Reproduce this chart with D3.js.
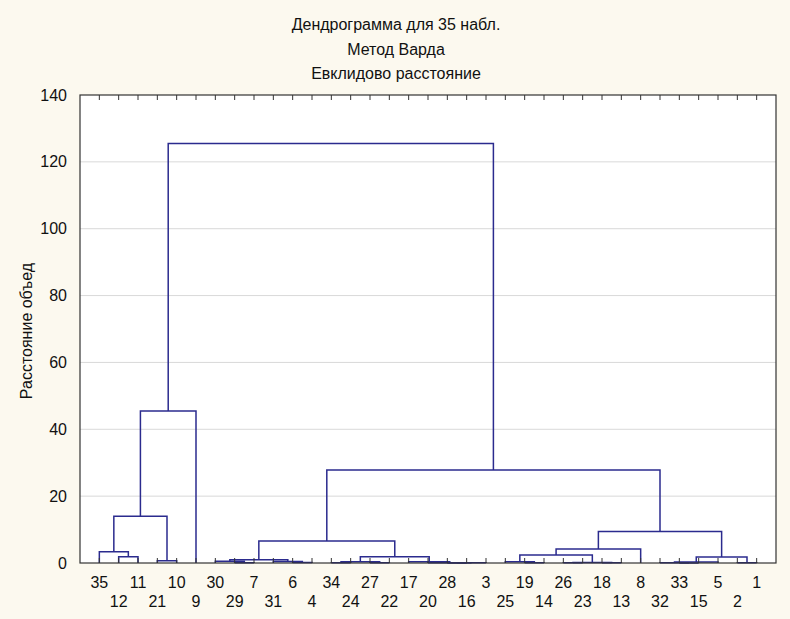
<!DOCTYPE html>
<html>
<head>
<meta charset="utf-8">
<script src="https://cdn.jsdelivr.net/npm/d3@7"></script>
<style>
  html, body { margin: 0; padding: 0; background: #fcf9ef; }
  svg { display: block; }
  text { font-family: "Liberation Sans", Arial, sans-serif; fill: #111; }
</style>
</head>
<body>
<svg id="chart" width="790" height="619"></svg>
<script>
// Leaf order along the axis (case numbers)
const leafLabels = ["35","12","11","21","10","9","30","29","7","31","6","4","34","24","27","22",
  "17","20","28","16","3","25","19","14","26","23","18","13","8","32","33","15","5","2","1"];

// Agglomeration steps: children are case numbers or "#k" for the k-th step
const mergeLeft   = ["12","35","21","#1","#3","29","30","6","31","#6","34","27","#10","28","#13","20","17","#12","#9",
                     "19","25","26","18","#21","#20","#24","33","32","#27","2","#28","#25","#18","#4"];
const mergeRight  = ["11","#0","10","#2","9","7","#5","4","#7","#8","24","22","#11","16","3","#14","#15","#16","#17",
                     "14","#19","23","13","#22","#23","8","15","#26","5","1","#29","#30","#31","#32"];
const mergeHeight = [1.9, 3.4, 0.7, 14.0, 45.5, 0.1, 0.5, 0.15, 0.45, 0.95, 0.05, 0.05, 0.35, 0.02, 0.05, 0.1, 0.35, 1.9, 6.6,
                     0.05, 0.35, 0.05, 0.05, 0.15, 2.4, 4.2, 0.02, 0.05, 0.3, 0.1, 1.8, 9.4, 27.8, 125.5];

const yTicks = [0, 20, 40, 60, 80, 100, 120, 140];
const titleLines = ["Дендрограмма для 35 набл.", "Метод Варда", "Евклидово расстояние"];
const yTitle = "Расстояние объед";

const svg = d3.select("#chart");
const plot = { left: 80, right: 776, top: 95, bottom: 563 };

const x = d3.scalePoint().domain(leafLabels).range([plot.left, plot.right]).padding(1);
const y = d3.scaleLinear().domain([0, 140]).range([plot.bottom, plot.top]);

// plot area
svg.append("rect")
  .attr("x", plot.left).attr("y", plot.top)
  .attr("width", plot.right - plot.left).attr("height", plot.bottom - plot.top)
  .attr("fill", "#ffffff");

// horizontal grid
svg.append("g").selectAll("line")
  .data(yTicks.filter(t => t > 0 && t < 140))
  .join("line")
  .attr("x1", plot.left).attr("x2", plot.right)
  .attr("y1", d => y(d)).attr("y2", d => y(d))
  .attr("stroke", "#d9d9d9").attr("stroke-width", 1);

// resolve node positions
const nodePos = [];
function pos(ref) {
  if (ref.startsWith("#")) return nodePos[+ref.slice(1)];
  return { x: x(ref), h: 0 };
}
mergeLeft.forEach((l, i) => {
  const a = pos(l), b = pos(mergeRight[i]);
  nodePos.push({ x: (a.x + b.x) / 2, h: mergeHeight[i], a, b });
});

// dendrogram links
svg.append("g")
  .selectAll("path")
  .data(nodePos)
  .join("path")
  .attr("d", d => {
    const yt = y(d.h);
    return `M${d.a.x},${y(d.a.h)}V${yt}H${d.b.x}V${y(d.b.h)}`;
  })
  .attr("fill", "none")
  .attr("stroke", "#2b2b8e")
  .attr("stroke-width", 1.5);

// frame
svg.append("rect")
  .attr("x", plot.left).attr("y", plot.top)
  .attr("width", plot.right - plot.left).attr("height", plot.bottom - plot.top)
  .attr("fill", "none").attr("stroke", "#333").attr("stroke-width", 1.2);

// leaf ticks, bottom and top, pointing inward
const tickG = svg.append("g").attr("stroke", "#333").attr("stroke-width", 1);
tickG.selectAll("line.b").data(leafLabels).join("line").attr("class", "b")
  .attr("x1", d => x(d)).attr("x2", d => x(d))
  .attr("y1", plot.bottom).attr("y2", plot.bottom - 5);
tickG.selectAll("line.t").data(leafLabels).join("line").attr("class", "t")
  .attr("x1", d => x(d)).attr("x2", d => x(d))
  .attr("y1", plot.top).attr("y2", plot.top + 5);

// y axis
const yAxis = d3.axisLeft(y).tickValues(yTicks).tickSize(0).tickPadding(13);
const ya = svg.append("g").attr("transform", `translate(${plot.left},0)`).call(yAxis);
ya.select(".domain").remove();
ya.selectAll("text").style("font-size", "16px").attr("fill", "#111");

// leaf labels in two staggered rows
svg.append("g").selectAll("text")
  .data(leafLabels)
  .join("text")
  .attr("x", d => x(d))
  .attr("y", (d, i) => i % 2 === 0 ? 588 : 607)
  .attr("text-anchor", "middle")
  .style("font-size", "16px")
  .text(d => d);

// title
svg.append("g").selectAll("text")
  .data(titleLines)
  .join("text")
  .attr("x", 396)
  .attr("y", (d, i) => 30 + i * 24.5)
  .attr("text-anchor", "middle")
  .style("font-size", "16px")
  .text(d => d);

// y axis title
svg.append("text")
  .attr("transform", `translate(32,331) rotate(-90)`)
  .attr("text-anchor", "middle")
  .style("font-size", "16px")
  .text(yTitle);
</script>
</body>
</html>
